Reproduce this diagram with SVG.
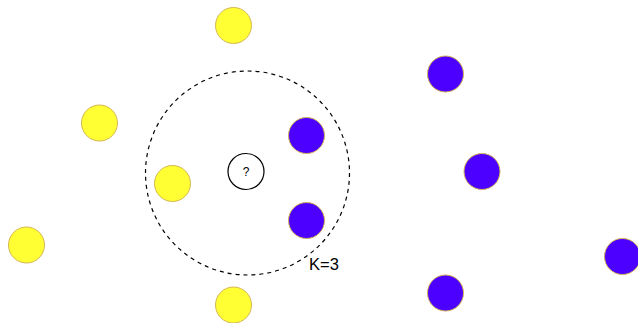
<svg xmlns="http://www.w3.org/2000/svg" width="638" height="323" viewBox="0 0 638 323">
<style>
.y{fill:#FFFF33;stroke:#D6B656;stroke-width:1}
.b{fill:#4C00FF;stroke:#D6B656;stroke-width:1}
.q{fill:#FFFFFF;stroke:#000000;stroke-width:1.2}
.r{fill:none;stroke:#000000;stroke-width:1.2;stroke-dasharray:4 4}
text{font-family:"Liberation Sans",Arial,sans-serif;fill:#000000}
</style>
<rect width="638" height="323" fill="#FFFFFF"/>
<g id="radius"><circle class="r" cx="247.5" cy="173" r="102"/></g>
<g id="y1"><circle class="y" cx="233.5" cy="25.5" r="18"/></g>
<g id="y2"><circle class="y" cx="99.5" cy="123" r="18"/></g>
<g id="y3"><circle class="y" cx="172.5" cy="183.5" r="18"/></g>
<g id="y4"><circle class="y" cx="26.5" cy="245" r="18"/></g>
<g id="y5"><circle class="y" cx="233.5" cy="305" r="18"/></g>
<g id="b1"><circle class="b" cx="306.5" cy="135.5" r="18"/></g>
<g id="b2"><circle class="b" cx="306.5" cy="220.5" r="18"/></g>
<g id="b3"><circle class="b" cx="445.5" cy="74" r="18"/></g>
<g id="b4"><circle class="b" cx="482" cy="171.5" r="18"/></g>
<g id="b5"><circle class="b" cx="445.5" cy="293" r="18"/></g>
<g id="b6"><circle class="b" cx="622.5" cy="256.5" r="18"/></g>
<g id="query"><circle class="q" cx="246" cy="171.5" r="18"/><text x="246" y="176" font-size="12" text-anchor="middle">?</text></g>
<g id="label"><text x="309" y="270" font-size="16.5">K=3</text></g>
<g id="connectors"></g>
</svg>
